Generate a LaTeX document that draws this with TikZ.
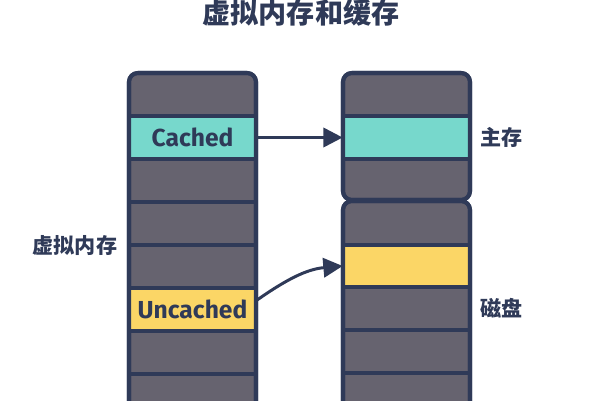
\documentclass[tikz,border=0pt]{standalone}
\usepackage{fontspec}
\setsansfont{Fira Sans}
\newfontfamily\cjk{Noto Sans CJK SC}[BoldFont={Noto Sans CJK SC Black}]
\usetikzlibrary{arrows.meta}

\definecolor{navy}{HTML}{2F3A58}
\definecolor{slate}{HTML}{66636F}
\definecolor{mint}{HTML}{77D8CC}
\definecolor{sun}{HTML}{FBD666}

\tikzset{
  colbox/.style={draw=navy, fill=slate, line width=2.3pt, rounded corners=5pt},
  cell/.style={minimum width=2.54cm, minimum height=0.86cm, inner sep=0pt,
    text=navy, font=\sffamily\bfseries\fontsize{14}{14}\selectfont},
  sep/.style={navy, line width=2.3pt},
  arr/.style={navy, line width=1.7pt, -{Triangle[length=11pt,width=11pt]}},
  lbl/.style={text=navy, font=\cjk\bfseries\fontsize{12}{12}\selectfont},
}

\begin{document}
\begin{tikzpicture}[x=0.02cm,y=-0.02cm]
\useasboundingbox (0,0) rectangle (600,400);
\clip (0,0) rectangle (600,400);

% title
\node[lbl, font=\cjk\bfseries\fontsize{16}{16}\selectfont] (title) at (301,13) {虚拟内存和缓存};

% virtual memory
\path[colbox] (129,73) rectangle (256,430);
\node[cell, fill=mint] (cached) at (192.5,137.5) {Cached};
\node[cell, fill=sun] (uncached) at (192.5,309.5) {Uncached};
\foreach \y in {116,159,...,374}
  \draw[sep] (129,\y) -- (256,\y);
\draw[colbox, fill=none] (129,73) rectangle (256,430);
\node[lbl] (vmem) at (75,245) {虚拟内存};

% main memory
\path[colbox] (343,73) rectangle (470,200);
\node[cell, fill=mint] (ram) at (406.5,137.5) {};
\foreach \y in {116,159}
  \draw[sep] (343,\y) -- (470,\y);
\draw[colbox, fill=none] (343,73) rectangle (470,200);
\node[lbl] (mem) at (502,137) {主存};

% disk
\path[colbox] (343,201) rectangle (470,430);
\node[cell, fill=sun] (disk) at (406.5,266) {};
\foreach \y in {245,287,330,373}
  \draw[sep] (343,\y) -- (470,\y);
\draw[colbox, fill=none] (343,201) rectangle (470,430);
\node[lbl] (dsk) at (502,308) {磁盘};

% arrows
\draw[arr] (cached.east) -- (ram.west);
\draw[arr] (uncached.8) to[out=35,in=185] (disk.west);
\end{tikzpicture}
\end{document}
